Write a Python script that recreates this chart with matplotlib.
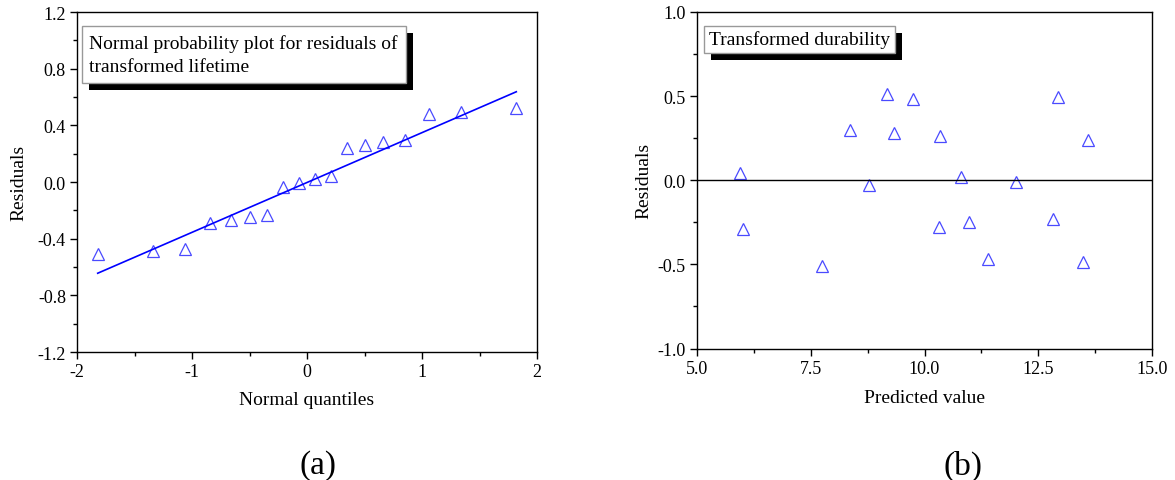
import matplotlib
matplotlib.use('Agg')
import matplotlib.pyplot as plt
import matplotlib.patheffects as pe
from matplotlib.ticker import MultipleLocator

plt.rcParams['font.family'] = ['Liberation Serif', 'DejaVu Serif']
plt.rcParams['axes.unicode_minus'] = False

# (a) normal probability plot
quantiles = [-1.82, -1.34, -1.06, -0.84, -0.66, -0.50, -0.35, -0.21, -0.07,
             0.07, 0.21, 0.35, 0.50, 0.66, 0.85, 1.06, 1.34, 1.82]
resid_a = [-0.51, -0.49, -0.47, -0.29, -0.27, -0.25, -0.23, -0.035, -0.01,
           0.02, 0.04, 0.237, 0.263, 0.284, 0.30, 0.48, 0.495, 0.519]
fit_x = [-1.82, 1.82]
fit_y = [-0.644, 0.637]

# (b) residuals vs predicted
predicted = [5.95, 6.00, 7.75, 8.37, 8.78, 9.17, 9.34, 9.75, 10.31,
             10.35, 10.81, 10.98, 11.39, 12.00, 12.82, 12.93, 13.48, 13.59]
resid_b = [0.042, -0.287, -0.509, 0.297, -0.03, 0.515, 0.283, 0.481, -0.277,
           0.261, 0.02, -0.251, -0.471, -0.01, -0.228, 0.495, -0.485, 0.238]

W, H = 1175, 481
fig = plt.figure(figsize=(W / 100, H / 100), dpi=100)
ax1 = fig.add_axes([77 / W, 1 - 353 / H, 460 / W, 340 / H])
ax2 = fig.add_axes([697 / W, 1 - 349.5 / H, 455 / W, 336.5 / H])

mcol = '#4a4aff'
ax1.plot(quantiles, resid_a, '^', mfc='none', mec=mcol, ms=8.5, mew=0.9)
ax1.plot(fit_x, fit_y, color='#0000ff', lw=1.2)
ax1.set_xlim(-2, 2)
ax1.set_ylim(-1.2, 1.2)
ax1.xaxis.set_major_locator(MultipleLocator(1))
ax1.xaxis.set_minor_locator(MultipleLocator(0.5))
ax1.yaxis.set_major_locator(MultipleLocator(0.4))
ax1.yaxis.set_minor_locator(MultipleLocator(0.2))
ax1.set_yticklabels([f'{v:.1f}' for v in ax1.get_yticks()])
ax1.set_xlabel('Normal quantiles', fontsize=14, labelpad=8)
ax1.set_ylabel('Residuals', fontsize=14, labelpad=7)

ax2.plot(predicted, resid_b, '^', mfc='none', mec=mcol, ms=8.5, mew=0.9)
ax2.axhline(0, color='black', lw=1)
ax2.set_xlim(5, 15)
ax2.set_ylim(-1, 1)
ax2.xaxis.set_major_locator(MultipleLocator(2.5))
ax2.xaxis.set_minor_locator(MultipleLocator(1.25))
ax2.yaxis.set_major_locator(MultipleLocator(0.5))
ax2.yaxis.set_minor_locator(MultipleLocator(0.25))
ax2.set_xticklabels([f'{v:.1f}' for v in ax2.get_xticks()])
ax2.set_yticklabels([f'{v:.1f}' for v in ax2.get_yticks()])
ax2.set_xlabel('Predicted value', fontsize=14, labelpad=9)
ax2.set_ylabel('Residuals', fontsize=14, labelpad=4)

for ax in (ax1, ax2):
    ax.tick_params(which='major', direction='out', length=5, width=1,
                   labelsize=13, top=False, right=False, pad=3)
    ax.tick_params(which='minor', direction='out', length=3, width=1,
                   top=False, right=False)
    for s in ax.spines.values():
        s.set_linewidth(1)

shadow = [pe.withSimplePatchShadow(offset=(5, -5), shadow_rgbFace='black', alpha=1)]
t1 = ax1.text(0.027, 0.935, 'Normal probability plot for residuals of\ntransformed lifetime',
              transform=ax1.transAxes, fontsize=14, va='top', ha='left',
              linespacing=1.5,
              bbox=dict(boxstyle='square,pad=0.4', fc='white', ec='#999999', lw=1))
t1.get_bbox_patch().set_path_effects(shadow)
t2 = ax2.text(0.027, 0.945, 'Transformed durability',
              transform=ax2.transAxes, fontsize=14, va='top', ha='left',
              bbox=dict(boxstyle='square,pad=0.25', fc='white', ec='#999999', lw=1))
t2.get_bbox_patch().set_path_effects(shadow)

fig.text(318 / W, 1 - 466 / H, '(a)', fontsize=24, ha='center', va='center')
fig.text(963 / W, 1 - 466 / H, '(b)', fontsize=24, ha='center', va='center')

fig.savefig('out.png', dpi=100)
